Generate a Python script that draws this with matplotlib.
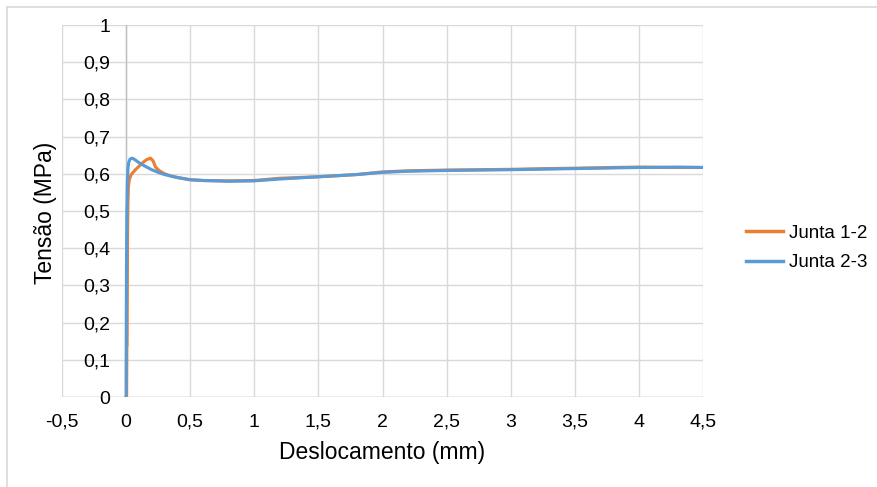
import matplotlib.pyplot as plt
from matplotlib.lines import Line2D
import numpy as np

plt.rcParams['font.family'] = ['Liberation Sans', 'DejaVu Sans']

# Junta 1-2 (orange)
x12 = [0, 0.004, 0.006, 0.008, 0.011, 0.014, 0.018, 0.025, 0.04, 0.07, 0.1, 0.13, 0.16, 0.19, 0.21,
       0.23, 0.26, 0.3, 0.35, 0.4, 0.5, 0.6, 0.8, 1.0, 1.2, 1.5, 1.8, 2.0, 2.2, 2.5, 3.0, 3.3, 3.5,
       3.8, 4.0, 4.2, 4.5]
y12 = [0, 0.0, 0.14, 0.14, 0.42, 0.52, 0.565, 0.585, 0.598, 0.61, 0.62, 0.63, 0.638, 0.642, 0.635,
       0.618, 0.608, 0.6, 0.594, 0.59, 0.584, 0.582, 0.581, 0.582, 0.588, 0.592, 0.598, 0.605,
       0.608, 0.61, 0.612, 0.614, 0.615, 0.617, 0.618, 0.617, 0.617]

# Junta 2-3 (blue)
x23 = [0, 0.001, 0.003, 0.006, 0.01, 0.015, 0.02, 0.03, 0.045, 0.06, 0.08, 0.1, 0.15, 0.2, 0.25,
       0.3, 0.4, 0.5, 0.6, 0.8, 1.0, 1.2, 1.5, 1.8, 2.0, 2.2, 2.5, 3.0, 3.5, 4.0, 4.3, 4.5]
y23 = [0, 0.14, 0.35, 0.5, 0.58, 0.615, 0.63, 0.639, 0.642, 0.64, 0.635, 0.63, 0.62, 0.611, 0.604,
       0.598, 0.59, 0.584, 0.582, 0.58, 0.581, 0.586, 0.592, 0.598, 0.604, 0.607, 0.609, 0.611,
       0.614, 0.617, 0.618, 0.617]

xticks = [-0.5, 0, 0.5, 1, 1.5, 2, 2.5, 3, 3.5, 4, 4.5]
xticklabels = ['-0,5', '0', '0,5', '1', '1,5', '2', '2,5', '3', '3,5', '4', '4,5']
yticks = [0, 0.1, 0.2, 0.3, 0.4, 0.5, 0.6, 0.7, 0.8, 0.9, 1]
yticklabels = ['0', '0,1', '0,2', '0,3', '0,4', '0,5', '0,6', '0,7', '0,8', '0,9', '1']

orange = '#ED7D31'
blue = '#5B9BD5'
grid = '#D9D9D9'

fig = plt.figure(figsize=(8.78, 4.87), dpi=100)
ax = fig.add_axes([62 / 878, 1 - 397 / 487, 641 / 878, 372 / 487])

ax.plot(x12, y12, color=orange, lw=2.25, solid_joinstyle='round', zorder=3)
ax.plot(x23, y23, color=blue, lw=2.25, solid_joinstyle='round', zorder=4)

ax.set_xlim(-0.5, 4.5)
ax.set_ylim(0, 1)
ax.set_xticks(xticks)
ax.set_xticklabels(xticklabels)
ax.set_yticks(yticks)
ax.set_yticklabels(yticklabels)
ax.tick_params(length=0, labelsize=14)
ax.tick_params(axis='x', pad=12)
# y labels sit next to the value axis at x=0, inside the plot area
ax.tick_params(axis='y', pad=-35)
ax.grid(True, color=grid, lw=1.0)
ax.set_axisbelow(True)
for s in ax.spines.values():
    s.set_visible(False)
ax.axvline(0, color='#BFBFBF', lw=1.0, zorder=2)
ax.axhline(0, color='#BFBFBF', lw=1.0, zorder=2)

ax.set_xlabel('Deslocamento (mm)', fontsize=16.5, va='center')
ax.xaxis.set_label_coords(0.499, -0.148)
ax.set_ylabel('Tensão (MPa)', fontsize=16.5, va='center')
ax.yaxis.set_label_coords(-0.0265, 0.495)

handles = [Line2D([], [], color=orange, lw=2.5), Line2D([], [], color=blue, lw=2.5)]
fig.legend(handles, ['Junta 1-2', 'Junta 2-3'], loc='center left',
           bbox_to_anchor=(729 / 878, 1 - 248 / 487), frameon=False, fontsize=13.5,
           handlelength=2.0, handletextpad=0.3, labelspacing=0.65)

# outer chart border (top and left only visible)
fig.add_artist(Line2D([7 / 878, 1], [1 - 7 / 487, 1 - 7 / 487], color='#D9D9D9', lw=1.2))
fig.add_artist(Line2D([7 / 878, 7 / 878], [0, 1 - 7 / 487], color='#D9D9D9', lw=1.2))

fig.savefig('out.png', dpi=100)
